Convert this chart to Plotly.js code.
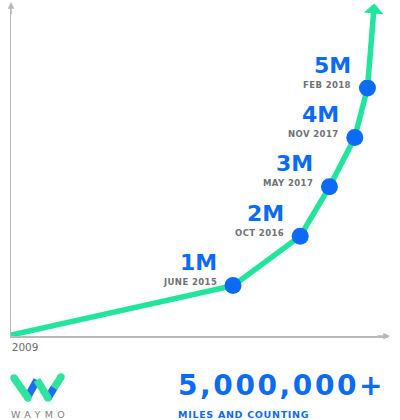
<!DOCTYPE html>
<html>
<head>
<meta charset="utf-8">
<script src="https://cdn.plot.ly/plotly-3.0.1.min.js"></script>
<style>html,body{margin:0;padding:0;background:#fff;}#chart{width:400px;height:420px;}</style>
</head>
<body>
<div id="chart"></div>
<script>
// ---- data ----
const dates = ['2009-01', '2015-06', '2016-10', '2017-05', '2017-11', '2018-02'];
const miles = [0, 1, 2, 3, 4, 5];              // millions of miles
const milestoneLabels = ['', '1M', '2M', '3M', '4M', '5M'];
const dateLabels = ['', 'JUNE 2015', 'OCT 2016', 'MAY 2017', 'NOV 2017', 'FEB 2018'];
const startTickLabel = ['2009'];
const headline = '5,000,000+';
const subline = 'MILES AND COUNTING';
const brand = 'WAYMO';

// ---- style ----
const GREEN = '#22e59c';
const BLUE = '#0b6bf7';
const GRAY = '#6e7277';
const AXIS = '#b9b9b9';
const FONT = 'DejaVu Sans';

const M = {l: 11, r: 12, t: 5, b: 84};
const PW = 400 - M.l - M.r, PH = 420 - M.t - M.b;
const px = x => (x - M.l) / PW;
const py = y => (420 - M.b - y) / PH;

const msIdx = miles.map((m, i) => i).filter(i => milestoneLabels[i] !== '');

const traces = [
  {x: dates, y: miles, type: 'scatter', mode: 'lines',
   line: {color: GREEN, width: 5.5}, hoverinfo: 'skip', showlegend: false},
  {x: msIdx.map(i => dates[i]), y: msIdx.map(i => miles[i]), type: 'scatter', mode: 'markers',
   marker: {color: BLUE, size: 17, line: {width: 0}}, hoverinfo: 'skip', showlegend: false}
];

const annotations = [];
msIdx.forEach(i => {
  annotations.push({x: dates[i], y: miles[i], xref: 'x', yref: 'y', showarrow: false,
    text: milestoneLabels[i], xanchor: 'right', yanchor: 'middle', xshift: -14, yshift: 23,
    font: {family: FONT, size: 22, color: BLUE, weight: 'bold'}});
  annotations.push({x: dates[i], y: miles[i], xref: 'x', yref: 'y', showarrow: false,
    text: '<span style="letter-spacing:0.4px">' + dateLabels[i] + '</span>', xanchor: 'right', yanchor: 'middle', xshift: -14, yshift: 3.5,
    font: {family: FONT, size: 8.5, color: GRAY, weight: 'bold'}});
});
// growth arrow continuing past the last milestone
const last = dates.length - 1;
annotations.push({x: dates[last], y: miles[last], xref: 'x', yref: 'y', axref: 'pixel', ayref: 'pixel',
  ax: 7, ay: -86, text: '', showarrow: true, arrowside: 'start', startarrowhead: 1, startarrowsize: 0.6,
  arrowwidth: 5.5, arrowcolor: GREEN, standoff: 8});
// axis arrow heads
annotations.push({x: 0, y: py(2), xref: 'paper', yref: 'paper', ax: 0, ay: 14, text: '', showarrow: true,
  arrowhead: 2, arrowsize: 0.9, arrowwidth: 1.5, arrowcolor: AXIS});
annotations.push({x: px(390), y: 0, xref: 'paper', yref: 'paper', ax: -14, ay: 0, text: '', showarrow: true,
  arrowhead: 2, arrowsize: 0.9, arrowwidth: 1.5, arrowcolor: AXIS});
// footer texts
annotations.push({x: px(176), y: py(385), xref: 'paper', yref: 'paper', showarrow: false, xanchor: 'left', yanchor: 'middle',
  text: '<span style="letter-spacing:2.6px">' + headline + '</span>',
  font: {family: FONT, size: 28, color: BLUE, weight: 'bold'}});
annotations.push({x: px(176), y: py(414), xref: 'paper', yref: 'paper', showarrow: false, xanchor: 'left', yanchor: 'middle',
  text: '<span style="letter-spacing:0.7px">' + subline + '</span>',
  font: {family: FONT, size: 9.5, color: BLUE, weight: 'bold'}});
annotations.push({x: px(9), y: py(414), xref: 'paper', yref: 'paper', showarrow: false, xanchor: 'left', yanchor: 'middle',
  text: '<span style="letter-spacing:4.4px">' + brand + '</span>',
  font: {family: FONT, size: 9.5, color: '#7b7f84'}});

// logo (decorative W)
function seg(x0, y0, x1, y1, c) {
  return {type: 'line', xref: 'paper', yref: 'paper', x0: px(x0), y0: py(y0), x1: px(x1), y1: py(y1),
    line: {color: c, width: 7.5}};
}
function dot(x, y, r, c) {
  return {type: 'circle', xref: 'paper', yref: 'paper', x0: px(x - r), x1: px(x + r), y0: py(y + r), y1: py(y - r),
    fillcolor: c, line: {width: 0}};
}
const LG = '#2fe3a1', LB = '#1b6ff0';
const shapes = [
  seg(27, 398, 37, 380, LB),
  seg(48, 398, 54.5, 387, LB),
  seg(14, 378, 28, 398, LG),
  seg(37, 380, 48, 398, LG),
  seg(54, 388, 61, 377, LG),
  dot(14, 378, 3.7, LG), dot(61, 377, 3.7, LG),
  dot(28, 398, 3.7, LG), dot(48, 398, 3.7, LG)
];

const layout = {
  width: 400, height: 420, margin: M,
  paper_bgcolor: '#fff', plot_bgcolor: '#fff',
  showlegend: false,
  xaxis: {type: 'date', range: ['2009-01-01', '2018-06-30'], autorange: false,
    rangebreaks: [{bounds: ['2010-07-01', '2012-07-01']}],
    showgrid: false, zeroline: false, showline: true, linecolor: AXIS, linewidth: 1.5,
    ticks: '', tickvals: [dates[0]], ticktext: startTickLabel, ticklabelposition: 'outside right',
    ticklabelstandoff: 1, tickfont: {family: FONT, size: 10.5, color: '#6b6b6b'}, fixedrange: true},
  yaxis: {range: [-0.02, 6.68], autorange: false, showgrid: false, zeroline: false,
    showline: true, linecolor: AXIS, linewidth: 1.5, showticklabels: false, ticks: '', fixedrange: true},
  annotations: annotations,
  shapes: shapes
};

Plotly.newPlot('chart', traces, layout, {displayModeBar: false, staticPlot: true});
</script>
</body>
</html>
